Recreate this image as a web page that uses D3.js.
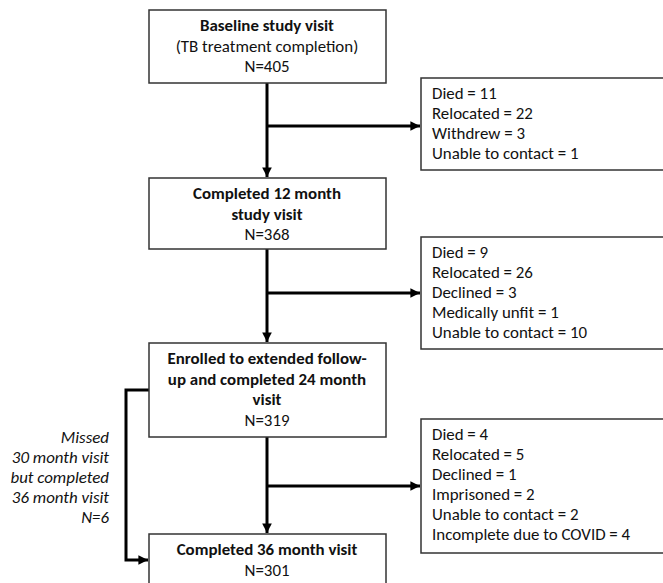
<!DOCTYPE html>
<html>
<head>
<meta charset="utf-8">
<script src="https://cdn.jsdelivr.net/npm/d3@7"></script>
<style>
  body { margin: 0; background: #fff; }
  svg { display: block; }
</style>
</head>
<body>
<div id="chart"></div>
<script>
// stage boxes (main column)
const stageTitles = [
  ['Baseline study visit'],
  ['Completed 12 month', 'study visit'],
  ['Enrolled to extended follow-', 'up and completed 24 month', 'visit'],
  ['Completed 36 month visit']
];
const stageSubtitles = [
  ['(TB treatment completion)'],
  [],
  [],
  []
];
const stageN = [405, 368, 319, 301];

// losses between stages
const lossLabels = [
  ['Died', 'Relocated', 'Withdrew', 'Unable to contact'],
  ['Died', 'Relocated', 'Declined', 'Medically unfit', 'Unable to contact'],
  ['Died', 'Relocated', 'Declined', 'Imprisoned', 'Unable to contact', 'Incomplete due to COVID']
];
const lossValues = [
  [11, 22, 3, 1],
  [9, 26, 3, 1, 10],
  [4, 5, 1, 2, 2, 4]
];

// side path
const sideLines = ['Missed', '30 month visit', 'but completed', '36 month visit'];
const sideN = 6;

const WIDTH = 663;
const HEIGHT = 583;
const LINE = 20.6;
const FS = 16.9;
const FONT = 'Carlito, Calibri, Lato, "Open Sans", sans-serif';

// layout
const boxX = 149, boxW = 237, cx = 267;
const boxTop = [10, 178, 343, 534];
const boxBot = [83, 249, 437, 600];
const lossX = 421, lossW = 300;
const lossTop = [78, 237, 419];
const lossBot = [170, 349, 553];
const branchY = [126, 293, 486];

const svg = d3.select('#chart').append('svg')
  .attr('width', WIDTH)
  .attr('height', HEIGHT)
  .style('font-family', FONT);

const defs = svg.append('defs');
defs.append('marker')
  .attr('id', 'arrow')
  .attr('viewBox', '0 0 10 10')
  .attr('refX', 10).attr('refY', 5)
  .attr('markerWidth', 3.2).attr('markerHeight', 3.2)
  .attr('markerUnits', 'strokeWidth')
  .attr('orient', 'auto')
  .append('path')
  .attr('d', 'M0,0 L10,5 L0,10 z')
  .attr('fill', '#000');

const lines = svg.append('g').attr('class', 'links')
  .attr('stroke', '#000')
  .attr('stroke-width', 3)
  .attr('fill', 'none');

// vertical arrows between stages
for (let i = 0; i < 3; i++) {
  lines.append('line')
    .attr('x1', cx).attr('y1', boxBot[i])
    .attr('x2', cx).attr('y2', boxTop[i + 1] - 1)
    .attr('marker-end', 'url(#arrow)');
  lines.append('line')
    .attr('x1', cx).attr('y1', branchY[i])
    .attr('x2', lossX - 1).attr('y2', branchY[i])
    .attr('marker-end', 'url(#arrow)');
}

// side loop from 24 month box to 36 month box
lines.append('path')
  .attr('d', `M${boxX},390 H126 V560 H${boxX - 1}`)
  .attr('marker-end', 'url(#arrow)');

// stage boxes
const stages = svg.append('g').selectAll('g')
  .data(stageTitles.map((t, i) => ({ title: t, sub: stageSubtitles[i], n: stageN[i], i })))
  .join('g');

stages.append('rect')
  .attr('x', boxX)
  .attr('y', d => boxTop[d.i])
  .attr('width', boxW)
  .attr('height', d => boxBot[d.i] - boxTop[d.i])
  .attr('fill', '#fff')
  .attr('stroke', '#333')
  .attr('stroke-width', 1.5);

stages.each(function (d) {
  const g = d3.select(this);
  const rows = d.title.map(t => ({ t, bold: true }))
    .concat(d.sub.map(t => ({ t, bold: false })))
    .concat([{ t: 'N=' + d.n, bold: false }]);
  const y0 = boxTop[d.i] + 21;
  g.selectAll('text')
    .data(rows)
    .join('text')
    .attr('x', cx)
    .attr('y', (r, j) => y0 + j * LINE)
    .attr('text-anchor', 'middle')
    .attr('font-size', FS)
    .attr('font-weight', r => r.bold ? 'bold' : 'normal')
    .attr('fill', '#111')
    .text(r => r.t);
});

// loss boxes
const losses = svg.append('g').selectAll('g')
  .data(lossLabels.map((l, i) => ({ labels: l, vals: lossValues[i], i })))
  .join('g');

losses.append('rect')
  .attr('x', lossX)
  .attr('y', d => lossTop[d.i])
  .attr('width', lossW)
  .attr('height', d => lossBot[d.i] - lossTop[d.i])
  .attr('fill', '#fff')
  .attr('stroke', '#333')
  .attr('stroke-width', 1.5);

losses.each(function (d) {
  d3.select(this).selectAll('text')
    .data(d.labels.map((l, j) => l + ' = ' + d.vals[j]))
    .join('text')
    .attr('x', 432)
    .attr('y', (t, j) => lossTop[d.i] + 21 + j * 20)
    .attr('font-size', FS)
    .attr('fill', '#111')
    .text(t => t);
});

// side label
svg.append('g').selectAll('text')
  .data(sideLines.concat(['N=' + sideN]))
  .join('text')
  .attr('x', 109)
  .attr('y', (t, j) => 443 + j * 20)
  .attr('text-anchor', 'end')
  .attr('font-size', FS)
  .attr('font-style', 'italic')
  .attr('fill', '#111')
  .text(t => t);
</script>
</body>
</html>
